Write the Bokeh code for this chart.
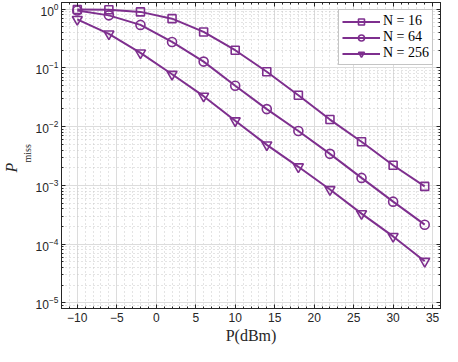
from bokeh.plotting import figure
from bokeh.models import (Range1d, FixedTicker, LinearAxis, LogAxis, Title,
                          Legend, LegendItem, CustomJSTickFormatter)
from bokeh.embed import file_html
from bokeh.resources import INLINE

power_dbm = [-10, -6, -2, 2, 6, 10, 14, 18, 22, 26, 30, 34]
pmiss_n16 = [0.99, 0.98, 0.90, 0.69, 0.41, 0.20, 0.086, 0.0343, 0.0132, 0.00553, 0.0022, 0.00096]
pmiss_n64 = [0.95, 0.785, 0.54, 0.277, 0.128, 0.0498, 0.0199, 0.00843, 0.00344, 0.00134, 0.000528, 0.000214]
pmiss_n256 = [0.67, 0.38, 0.18, 0.078, 0.033, 0.0126, 0.0049, 0.00207, 0.00085, 0.00033, 0.000135, 0.000051]
series_labels = ["N = 16", "N = 64", "N = 256"]
series_markers = ["square", "circle", "inverted_triangle"]
x_ticks = [-10, -5, 0, 5, 10, 15, 20, 25, 30, 35]
x_minor = list(range(-12, 37))
y_ticks = [1e-5, 1e-4, 1e-3, 1e-2, 1e-1, 1e0]
y_minor = [m * 10.0 ** e for e in range(-6, 1) for m in range(2, 10)]

PURPLE = "#7E2F8E"
AX = "#262626"

W, H = 442, 346

p = figure(width=W, height=H, output_backend="svg", toolbar_location=None,
           x_range=Range1d(-12, 36), y_range=Range1d(8e-6, 1.3),
           y_axis_type="log", min_border_left=20, min_border_right=2,
           min_border_top=2, min_border_bottom=30)
p.background_fill_color = "white"
p.border_fill_color = "white"
p.outline_line_color = AX
p.outline_line_width = 1

xt = FixedTicker(ticks=x_ticks, minor_ticks=x_minor)
yt = FixedTicker(ticks=y_ticks, minor_ticks=y_minor)


def style_axis(ax):
    ax.axis_line_color = AX
    ax.major_tick_line_color = AX
    ax.minor_tick_line_color = AX
    ax.major_tick_in = 4
    ax.major_tick_out = 0
    ax.minor_tick_in = 2
    ax.minor_tick_out = 0
    ax.major_label_text_color = AX
    ax.major_label_text_font = "Liberation Sans"
    ax.major_label_text_font_size = "12px"
    ax.major_label_standoff = 4


p.xaxis.ticker = xt
p.yaxis.ticker = yt
for ax in p.xaxis + p.yaxis:
    style_axis(ax)
p.yaxis.major_label_standoff = 3

p.xaxis.axis_label = "P(dBm)"
p.xaxis.axis_label_text_font = "Liberation Serif"
p.xaxis.axis_label_text_font_style = "normal"
p.xaxis.axis_label_text_font_size = "16px"
p.xaxis.axis_label_text_color = AX
p.xaxis.axis_label_standoff = 2

blank = CustomJSTickFormatter(code="return ''")
top_ax = LinearAxis(ticker=xt, formatter=blank)
style_axis(top_ax)
top_ax.major_label_standoff = 0
p.add_layout(top_ax, "above")
right_ax = LogAxis(ticker=yt, formatter=blank)
style_axis(right_ax)
right_ax.major_label_standoff = 0
p.add_layout(right_ax, "right")

# y-axis label P_miss built from two titles: subscript column next to the axis
p.add_layout(Title(text="miss", align="left", offset=146, standoff=0,
                   text_font="Liberation Serif", text_font_size="10px",
                   text_font_style="normal", text_color=AX), "left")
p.add_layout(Title(text="P", align="left", offset=136, standoff=0,
                   text_font="Liberation Serif", text_font_size="16px",
                   text_font_style="italic", text_color=AX), "left")

p.xgrid.ticker = xt
p.ygrid.ticker = yt
for g in (p.xgrid, p.ygrid):
    g.grid_line_color = "#dcdcdc"
    g.grid_line_width = 1
    g.minor_grid_line_color = "#c8c8c8"
    g.minor_grid_line_dash = "1 3"
    g.minor_grid_line_width = 1

items = []
for ys, lab, mk in zip([pmiss_n16, pmiss_n64, pmiss_n256], series_labels, series_markers):
    r_line = p.line(power_dbm, ys, line_color=PURPLE, line_width=2)
    size = 8 if mk == "square" else (9 if mk == "circle" else 10)
    r_pts = p.scatter(power_dbm, ys, marker=mk, size=size, line_color=PURPLE,
                      line_width=1.6, fill_color=None)
    items.append(LegendItem(label=lab, renderers=[r_line, r_pts]))

legend = Legend(items=items, location="top_right")
legend.margin = 7
legend.padding = 3
legend.spacing = 0
legend.glyph_width = 38
legend.glyph_height = 15
legend.label_height = 15
legend.label_standoff = 3
legend.label_text_font = "Liberation Serif"
legend.label_text_font_size = "14px"
legend.label_text_color = "#000000"
legend.border_line_color = "#8a8a8a"
legend.border_line_width = 1
legend.background_fill_color = "white"
legend.background_fill_alpha = 1
p.add_layout(legend, "center")

open("out.html", "w").write(file_html(p, INLINE))
